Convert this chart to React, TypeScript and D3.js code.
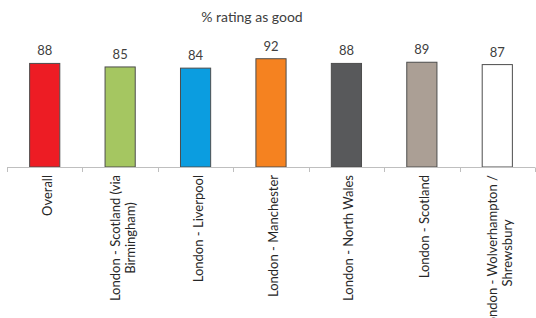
import React from "react";
import * as d3 from "d3";

const categories: string[][] = [
  ["Overall"],
  ["London - Scotland (via", "Birmingham)"],
  ["London - Liverpool"],
  ["London - Manchester"],
  ["London - North Wales"],
  ["London - Scotland"],
  ["London - Wolverhampton /", "Shrewsbury"],
];
const values: number[] = [88, 85, 84, 92, 88, 89, 87];
const colors: string[] = ["#ed1c24", "#a5c661", "#0b9de0", "#f58220", "#58595b", "#ab9f95", "#ffffff"];
const title = "% rating as good";

const W = 536;
const H = 318;
const FONT = "Lato, 'Open Sans', sans-serif";
const FS = 13;

function measure(t: string): number {
  if (typeof document === "undefined") return t.length * 6;
  const c = document.createElement("canvas");
  const ctx = c.getContext("2d");
  if (!ctx) return t.length * 6;
  ctx.font = `${FS}px Lato`;
  return ctx.measureText(t).width;
}

export default function App() {
  const x = d3.scaleBand<number>().domain(d3.range(categories.length)).range([7, 535]).paddingInner(0).paddingOuter(0);
  const y = d3.scaleLinear().domain([0, 100]).range([167, 49.3]);
  const bw = x.bandwidth() * 0.4;
  const labelTop = 175;
  const lh = 15;

  return (
    <svg width={W} height={H} style={{ position: "absolute", left: 0, top: 0, background: "#fff" }} fontFamily={FONT}>
      <text x={252} y={22} textAnchor="middle" fontSize={14} fill="#404040">{title}</text>
      {values.map((v, i) => {
        const cx = x(i)! + x.bandwidth() / 2;
        return (
          <g key={i}>
            <rect x={cx - bw / 2} y={y(v)} width={bw} height={y(0) - y(v)} fill={colors[i]} stroke="#4d4d4d" strokeWidth={1} />
            <text x={cx} y={y(v) - 8} textAnchor="middle" fontSize={13} fill="#404040">{v}</text>
          </g>
        );
      })}
      <line x1={7} x2={535} y1={167.5} y2={167.5} stroke="#bfbfbf" strokeWidth={1} />
      {d3.range(categories.length + 1).map((i) => {
        const tx = Math.round(i < categories.length ? x(i)! : 535) + 0.5;
        return <line key={i} x1={tx} x2={tx} y1={167.5} y2={172} stroke="#bfbfbf" strokeWidth={1} />;
      })}
      {categories.map((lines, i) => {
        const cx = x(i)! + x.bandwidth() / 2 + 2;
        const maxW = Math.max(...lines.map(measure));
        const n = lines.length;
        return (
          <g key={i}>
            {lines.map((ln, j) => {
              const lx = cx + (j - (n - 1) / 2) * lh;
              if (n === 1) {
                return (
                  <text key={j} transform={`translate(${lx},${labelTop}) rotate(-90)`} textAnchor="end" dominantBaseline="central" fontSize={FS} fill="#262626">{ln}</text>
                );
              }
              return (
                <text key={j} transform={`translate(${lx},${labelTop + maxW / 2}) rotate(-90)`} textAnchor="middle" dominantBaseline="central" fontSize={FS} fill="#262626">{ln}</text>
              );
            })}
          </g>
        );
      })}
    </svg>
  );
}
